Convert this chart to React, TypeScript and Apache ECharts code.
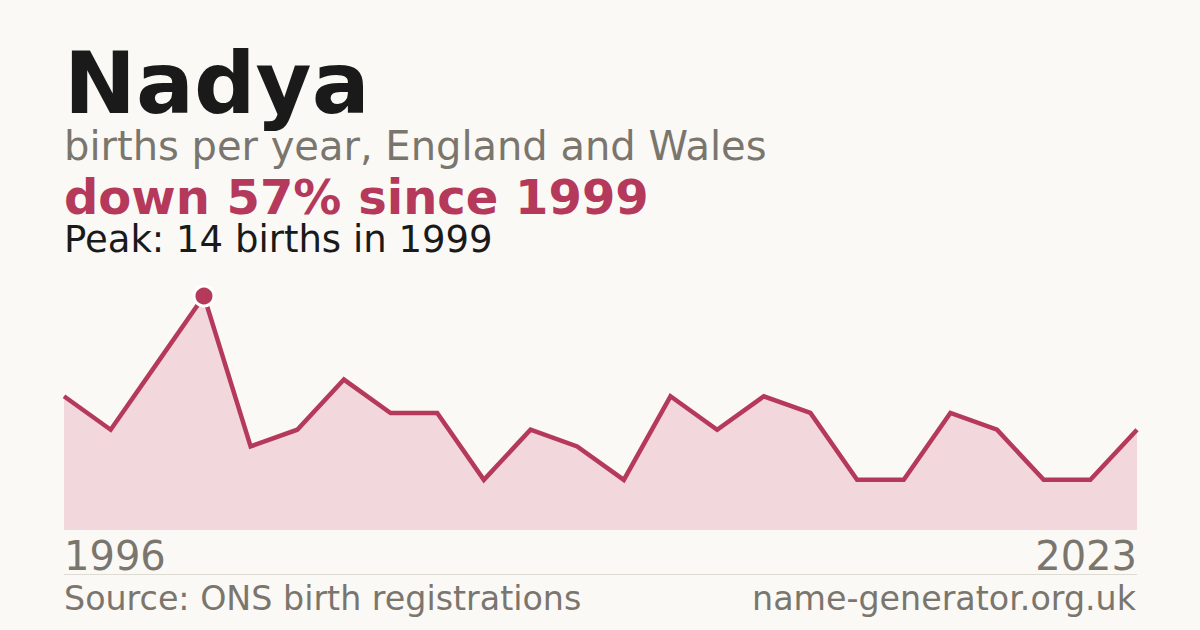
import * as echarts from "echarts";
import { useEffect, useRef } from "react";

const years = [
  "1996", "1997", "1998", "1999", "2000", "2001", "2002", "2003", "2004", "2005", "2006", "2007",
  "2008", "2009", "2010", "2011", "2013", "2014", "2016", "2017", "2019", "2020", "2022", "2023",
];
const births = [8, 6, 10, 14, 5, 6, 9, 7, 7, 3, 6, 5, 3, 8, 6, 8, 7, 3, 3, 7, 6, 3, 3, 6];

const title = "Nadya";
const subtitle = "births per year, England and Wales";
const headline = "down 57% since 1999";
const peakNote = "Peak: 14 births in 1999";
const sourceNote = "Source: ONS birth registrations";
const siteNote = "name-generator.org.uk";

const bg = "#faf9f5";
const accent = "#b5395a";
const fillColor = "#f2d7dc";
const greyText = "#7a766e";
const darkText = "#1a1a1a";
const font = "DejaVu Sans";

export default function App() {
  const ref = useRef<HTMLDivElement | null>(null);

  useEffect(() => {
    document.body.style.margin = "0";
    if (!ref.current) return;
    const chart = echarts.init(ref.current, undefined, { renderer: "svg" });
    const peakIndex = births.indexOf(Math.max(...births));
    const last = years.length - 1;

    chart.setOption({
      animation: false,
      backgroundColor: bg,
      textStyle: { fontFamily: font },
      grid: { left: 64, right: 63, top: 296, bottom: 100 },
      xAxis: {
        type: "category",
        data: years,
        boundaryGap: false,
        axisLine: { show: false },
        axisTick: { show: false },
        splitLine: { show: false },
        axisLabel: {
          interval: (index: number) => index === 0 || index === last,
          color: greyText,
          fontSize: 40,
          fontFamily: font,
          margin: 6,
          alignMinLabel: "left",
          alignMaxLabel: "right",
        },
      },
      yAxis: { type: "value", min: 0, max: 14, show: false },
      series: [
        {
          type: "line",
          data: births,
          clip: false,
          showSymbol: false,
          lineStyle: { color: accent, width: 4.5, cap: "butt", join: "miter" },
          areaStyle: { color: fillColor, opacity: 1 },
          z: 2,
        },
        {
          type: "scatter",
          data: births.map((v, i) => (i === peakIndex ? v : "-")),
          symbol: "circle",
          symbolSize: 20,
          clip: false,
          itemStyle: { color: accent, borderColor: "#ffffff", borderWidth: 3, opacity: 1 },
          z: 3,
        },
      ],
      graphic: [
        { type: "text", left: 64, top: 40, style: { text: title, font: `bold 86px ${font}`, fill: darkText } },
        { type: "text", left: 64, top: 126, style: { text: subtitle, font: `40px ${font}`, fill: greyText } },
        { type: "text", left: 64, top: 173, style: { text: headline, font: `bold 48px ${font}`, fill: accent } },
        { type: "text", left: 64, top: 221, style: { text: peakNote, font: `37px ${font}`, fill: darkText } },
        {
          type: "line",
          shape: { x1: 64, y1: 574.5, x2: 1137, y2: 574.5 },
          style: { stroke: "#dedbd3", lineWidth: 1 },
        },
        { type: "text", left: 64, top: 582, style: { text: sourceNote, font: `33.3px ${font}`, fill: greyText } },
        { type: "text", right: 64, top: 582, style: { text: siteNote, font: `33.3px ${font}`, fill: greyText } },
      ],
    });

    return () => {
      chart.dispose();
    };
  }, []);

  return <div ref={ref} style={{ width: 1200, height: 630 }} />;
}
